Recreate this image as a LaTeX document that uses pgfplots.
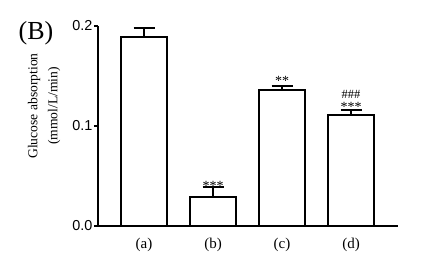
\documentclass[border=0pt]{standalone}
\usepackage{pgfplots}
\pgfplotsset{compat=1.18}
\usepackage{fontspec}
\setmainfont{Liberation Serif}
\newfontfamily\arial{Liberation Sans}
\begin{document}
\begin{tikzpicture}[x=1pt,y=1pt]
\useasboundingbox (0,0) rectangle (431,267);
\begin{axis}[at={(98pt,41pt)}, anchor=south west, scale only axis,
  width=300pt, height=200pt,
  xmin=-0.667, xmax=3.68, ymin=0, ymax=0.2,
  axis x line*=bottom, axis y line*=left,
  axis line style={line width=1.2pt},
  xtick={0,1,2,3}, xticklabels={(a),(b),(c),(d)},
  x tick style={draw=none},
  xticklabel style={font=\fontsize{15}{17}\selectfont, yshift=-5pt},
  ytick={0,0.1,0.2}, yticklabels={0.0,0.1,0.2},
  yticklabel style={font=\arial\fontsize{14.4}{16}\selectfont, inner sep=1.5pt},
  y tick style={line width=1.2pt, black},
  tick align=outside, major tick length=4pt,
  ylabel={Glucose absorption\\(mmol/L/min)},
  every axis y label/.style={at={(axis description cs:-0.18,0.6)}, rotate=90, anchor=center, align=center, font=\fontsize{13.6}{20}\selectfont},
  clip=false,
]
\addplot[ybar, bar width=46pt, fill=white, draw=black, line width=1.2pt,
  error bars/.cd, y dir=plus, y explicit,
  error bar style={line width=1.2pt},
  error mark options={rotate=90, mark size=10.5pt, line width=1.2pt}]
  table[x=x, y=y, y error=e] {
  x y e
  0 0.189 0.009
  1 0.029 0.010
  2 0.136 0.004
  3 0.111 0.005
};
\node[anchor=base, font=\fontsize{14}{15}\selectfont] at (axis cs:1,0.0357) {***};
\node[anchor=base, font=\fontsize{14}{15}\selectfont] at (axis cs:2,0.1402) {**};
\node[anchor=base, font=\fontsize{14}{15}\selectfont] at (axis cs:3,0.1142) {***};
\node[anchor=base, font=\fontsize{12.5}{15}\selectfont] at (axis cs:3,0.1273) {\#\#\#};
\end{axis}
\node[font=\fontsize{26}{28}\selectfont] at (36,234) {(B)};
\end{tikzpicture}
\end{document}
